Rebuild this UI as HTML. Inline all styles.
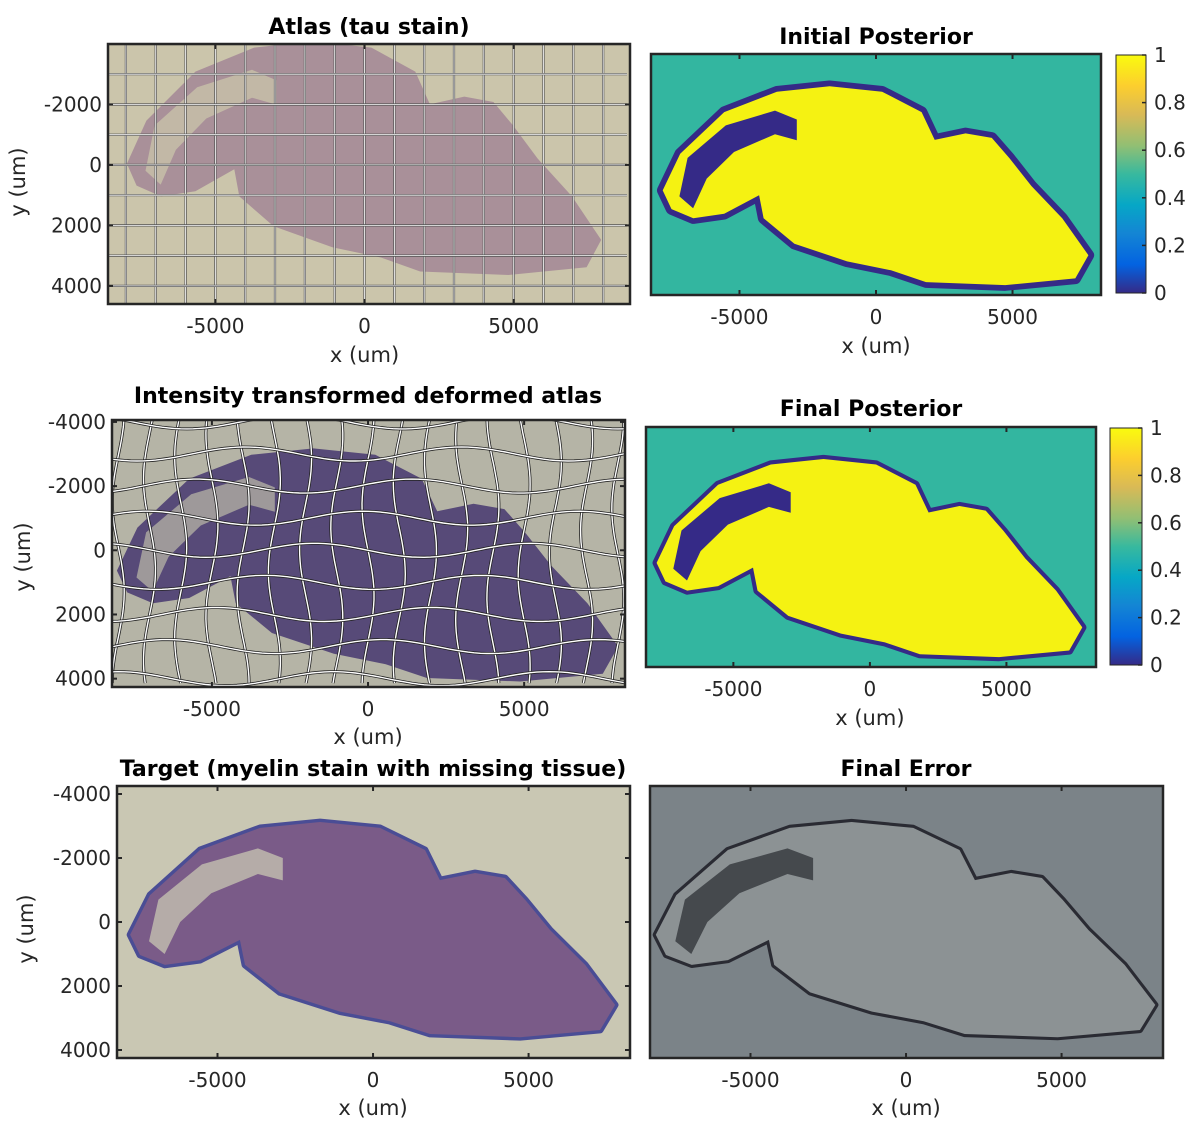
<!DOCTYPE html>
<html><head><meta charset="utf-8">
<style>
body{margin:0;background:#fff;width:1197px;height:1124px;overflow:hidden;position:relative;font-family:"DejaVu Sans","Liberation Sans",sans-serif;}
svg{position:absolute;left:0;top:0}
</style></head>
<body>
<svg id="fig" width="1197" height="1124"></svg>
<script>
// ---- data arrays ----
const xTicks = [-5000, 0, 5000];
const yTicks1 = [-2000, 0, 2000, 4000];
const yTicks3 = [-4000, -2000, 0, 2000, 4000];
const cbTicks = [0, 0.2, 0.4, 0.6, 0.8, 1];
const cbLabels = ["0", "0.2", "0.4", "0.6", "0.8", "1"];
const brainX = [-7810,-7170,-5560,-3630,-1700,225,1670,2150,3280,4240,4890,5690,6820,7780,7300,4730,1830,550,-1060,-2990,-4115,-4280,-5560,-6690,-7490];
const brainY = [400,-840,-2250,-2940,-3125,-2940,-2250,-1310,-1530,-1375,-690,250,1340,2590,3375,3600,3500,3100,2800,2200,1340,560,1190,1340,1030];
const gapX = [-7200,-6900,-5500,-3700,-2900,-2900,-3700,-5200,-6200,-6700];
const gapY = [600,-700,-1800,-2300,-2000,-1300,-1500,-900,0,1000];

const NS = "http://www.w3.org/2000/svg";
const fig = document.getElementById('fig');
function mk(tag, attrs, parent){const e=document.createElementNS(NS,tag);for(const k in attrs)e.setAttribute(k,attrs[k]);(parent||fig).appendChild(e);return e;}

const panels = [
 {id:'atlas', box:[108,44,630,304], xr:[-8600,8900], yr:[-4000,4600], yt:yTicks1, title:'Atlas (tau stain)', tx:369, ty:34, xl:355, ylab:[22,175], bg:'#cbc5ab', fill:'#a99099', stroke:'#9a8490', sw:0, grid:'reg', dy:-500, ys:1.15, xs:1.02},
 {id:'initial-posterior', box:[651,54,1101,295], xr:[-8240,8240], yr:[-4400,4400], yt:null, title:'Initial Posterior', tx:876, ty:44, xl:346, bg:'#33b6a0', fill:'#f5f212', stroke:'#352a87', sw:420, cb:[1116,55,1146,293], dy:150, ys:1.08, xs:1},
 {id:'deformed-atlas', box:[112,420,625,687], xr:[-8200,8230], yr:[-4060,4260], yt:yTicks3, title:'Intensity transformed deformed atlas', tx:368, ty:403, xl:737, ylab:[27,550], bg:'#b5b4a6', fill:'#574a78', stroke:'#4a4272', sw:0, grid:'wavy', dy:200, ys:1.08, xs:1.03},
 {id:'final-posterior', box:[646,427,1096,667], xr:[-8200,8280], yr:[-4400,4400], yt:null, title:'Final Posterior', tx:871, ty:416, xl:718, bg:'#33b6a0', fill:'#f5f212', stroke:'#352a87', sw:300, cb:[1110,428,1142,665], dy:150, ys:1.08, xs:1},
 {id:'target', box:[117,786,630,1058], xr:[-8230,8260], yr:[-4250,4250], yt:yTicks3, title:'Target (myelin stain with missing tissue)', tx:373, ty:776, xl:1108, ylab:[30,922], bg:'#c9c7b3', fill:'#7a5b88', stroke:'#4a4d95', sw:220, dy:0, ys:1, xs:1},
 {id:'final-error', box:[650,786,1163,1058], xr:[-8230,8260], yr:[-4250,4250], yt:null, title:'Final Error', tx:906, ty:776, xl:1108, bg:'#7b8388', fill:'#8c9294', stroke:'#2a2b33', sw:200, dy:0, ys:1, xs:1.03},
];

// parula gradient
const defs = mk('defs',{});
const lg = mk('linearGradient',{id:'parula',x1:0,y1:1,x2:0,y2:0},defs);
[['0','#352a87'],['0.12','#0363e1'],['0.25','#1485d4'],['0.37','#06a7c6'],['0.5','#38b99e'],['0.62','#92bf73'],['0.75','#d9ba56'],['0.87','#fcce2e'],['1','#f9fb0e']].forEach(s=>mk('stop',{offset:s[0],'stop-color':s[1]},lg));

panels.forEach(p=>{
  const [x0,y0,x1,y1]=p.box;
  const sx=v=>x0+(v-p.xr[0])/(p.xr[1]-p.xr[0])*(x1-x0);
  const sy=v=>y0+(v-p.yr[0])/(p.yr[1]-p.yr[0])*(y1-y0);
  const bx=v=>sx(v*p.xs);
  const by=v=>sy(v*p.ys+p.dy);
  const g=mk('g',{});
  
  
  const cp=mk('clipPath',{id:'cp-'+p.id},defs);
  mk('rect',{x:x0,y:y0,width:x1-x0,height:y1-y0},cp);
  const bg=mk('rect',{x:x0,y:y0,width:x1-x0,height:y1-y0,fill:p.bg},g);
  
  
  const ig=mk('g',{'clip-path':'url(#cp-'+p.id+')'},g);
  let d='';
  brainX.forEach((v,i)=>{d+=(i?'L':'M')+bx(v).toFixed(1)+','+by(brainY[i]).toFixed(1);});
  d+='Z';
  const kx=(x1-x0)/(p.xr[1]-p.xr[0]);
  if(p.sw>0){
    const o=mk('path',{d:d,fill:p.stroke,stroke:p.stroke,'stroke-width':p.sw*kx,'stroke-linejoin':'round'},ig);
    
    
  }
  const b=mk('path',{d:d,fill:p.fill,'stroke-linejoin':'round'},ig);
  
  
  let gd='';
  gapX.forEach((v,i)=>{gd+=(i?'L':'M')+bx(v).toFixed(1)+','+by(gapY[i]).toFixed(1);});
  gd+='Z';
  const isPost=p.id.indexOf('posterior')>=0;
  const gp=mk('path',{d:gd,fill:isPost?p.stroke:(p.id==='final-error'?'#2e3036':p.bg),opacity:isPost?1:0.75},ig);
  
  
  if(p.grid){
    const gg=mk('g',{},ig);
    
    
    const dark=p.grid==='reg'?'#555':'#222';
    for(let gx=-8000;gx<=8500;gx+=1000){
      let pd='';
      for(let gy=p.yr[0];gy<=p.yr[1];gy+=200){
        const w=p.grid==='wavy'?6*Math.sin(gy/900+gx/1300):0;
        pd+=(gy===p.yr[0]?'M':'L')+(sx(gx)+w).toFixed(1)+','+sy(gy).toFixed(1);
      }
      mk('path',{d:pd,fill:'none',stroke:dark,'stroke-width':p.grid==='reg'?2.2:3},gg);
      mk('path',{d:pd,fill:'none',stroke:'#fff','stroke-width':p.grid==='reg'?0.8:1.4},gg);
    }
    for(let gy=-4000;gy<=4500;gy+=1000){
      let pd='';
      for(let gx=p.xr[0];gx<=p.xr[1];gx+=200){
        const w=p.grid==='wavy'?7*Math.sin(gx/1100+gy/700):0;
        pd+=(gx===p.xr[0]?'M':'L')+sx(gx).toFixed(1)+','+(sy(gy)+w).toFixed(1);
      }
      mk('path',{d:pd,fill:'none',stroke:dark,'stroke-width':p.grid==='reg'?2.2:3},gg);
      mk('path',{d:pd,fill:'none',stroke:'#fff','stroke-width':p.grid==='reg'?0.8:1.4},gg);
    }
  }
  const fr=mk('rect',{x:x0,y:y0,width:x1-x0,height:y1-y0,fill:'none',stroke:'#262626','stroke-width':2.5},g);
  
  
  xTicks.forEach(v=>{
    const X=sx(v);
    mk('line',{x1:X,y1:y1,x2:X,y2:y1-5,stroke:'#262626','stroke-width':2},g);
    mk('line',{x1:X,y1:y0,x2:X,y2:y0+5,stroke:'#262626','stroke-width':2},g);
    const t=mk('text',{x:X,y:y1+29,'text-anchor':'middle','font-size':20,fill:'#262626'},g);
    t.textContent=String(v);
    
    
  });
  if(p.yt){
    p.yt.forEach(v=>{
      const Y=sy(v);
      mk('line',{x1:x0,y1:Y,x2:x0+5,y2:Y,stroke:'#262626','stroke-width':2},g);
      mk('line',{x1:x1,y1:Y,x2:x1-5,y2:Y,stroke:'#262626','stroke-width':2},g);
      const t=mk('text',{x:x0-6,y:Y+7,'text-anchor':'end','font-size':20,fill:'#262626'},g);
      t.textContent=String(v);
      
      
    });
    const yl=mk('text',{x:p.ylab[0]-4,y:p.ylab[1],'text-anchor':'middle','font-size':21,fill:'#262626',transform:'rotate(-90 '+(p.ylab[0]+3)+' '+p.ylab[1]+')'},g);
    yl.textContent='y (um)';
    
    
  }
  const xl=mk('text',{x:sx(0),y:p.xl+7,'text-anchor':'middle','font-size':21,fill:'#262626'},g);
  xl.textContent='x (um)';
  
  
  const tt=mk('text',{x:p.tx,y:p.ty,'text-anchor':'middle','font-size':22,'font-weight':'bold',fill:'#000'},g);
  tt.textContent=p.title;
  
  
  if(p.cb){
    const [cx0,cy0,cx1,cy1]=p.cb;
    const cb=mk('rect',{x:cx0,y:cy0,width:cx1-cx0,height:cy1-cy0,fill:'url(#parula)',stroke:'#262626','stroke-width':1},g);
    
    
    cbTicks.forEach((v,i)=>{
      const Y=cy1-v*(cy1-cy0);
      mk('line',{x1:cx1,y1:Y,x2:cx1-4,y2:Y,stroke:'#262626','stroke-width':1.5},g);
      const t=mk('text',{x:cx1+8,y:Y+7,'font-size':20,fill:'#262626'},g);
      t.textContent=cbLabels[i];
      
      
    });
  }
});
</script>
</body></html>
